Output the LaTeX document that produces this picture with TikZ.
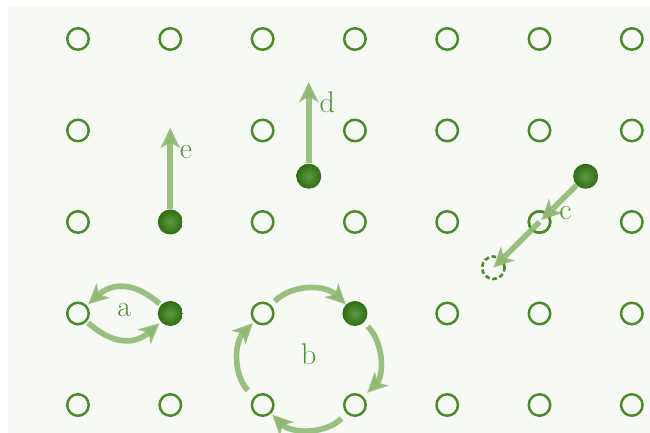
\documentclass[tikz,border=0pt]{standalone}
\usepackage{tikz}
\usetikzlibrary{arrows.meta, positioning, calc}
\definecolor{sitegreen}{HTML}{4A8B27}
\definecolor{atomdark}{HTML}{2F6C12}
\definecolor{atomlight}{HTML}{5E9A44}
\definecolor{hopgreen}{HTML}{8DB771}
\definecolor{labelgreen}{HTML}{4F8F35}
\definecolor{paper}{HTML}{F7F9F5}
\tikzset{
  site/.style   = {circle, draw=sitegreen, line width=1.4pt, fill=none,
                   minimum size=4.3mm, inner sep=0pt},
  atom/.style   = {circle, inner color=atomlight, outer color=atomdark,
                   minimum size=5mm, inner sep=0pt},
  ghost/.style  = {circle, draw=sitegreen, line width=1.5pt,
                   dash pattern=on 2.6pt off 1.6pt, minimum size=4.5mm, inner sep=0pt},
  hop/.style    = {-{Stealth[length=11.5pt, width=11pt, inset=3.2pt]}, line width=3.2pt,
                   draw=hopgreen, draw opacity=0.88, fill opacity=0.88},
  tag/.style    = {font=\fontsize{17}{20}\selectfont, text=labelgreen, inner sep=0pt},
}
\begin{document}
\begin{tikzpicture}[x=1.846cm, y=1.83cm]

% ---- Frame ----
\useasboundingbox (-0.845,0.426) rectangle (6.197,-4.306);
\fill[paper] (-0.758,0.35) rectangle (6.197,-4.306);

% ---- Lattice sites ----
\foreach \r/\cols in {1/{1,...,7}, 2/{1,3,4,5,6,7}, 3/{1,3,4,5,6,7}, 4/{1,3,5,6,7}, 5/{1,...,7}}
  \foreach \c in \cols
    \node[site] (site-\c-\r) at (\c-1,-\r+1) {};

% ---- Atoms ----
\node[atom] (atome) at (1,-2) {};
\node[atom] (atoma) at (1,-3) {};
\node[atom] (atomb) at (3,-3) {};
\node[atom] (atomd) at (2.5,-1.5) {};
\node[atom] (atomc) at (5.5,-1.5) {};
\node[ghost] (ghostc) at (4.5,-2.5) {};
\coordinate (vace) at (1,-0.97);
\coordinate (topd) at (2.5,-0.47);

% ===== Straight hops =====
\draw[hop] (atome) -- (vace);
\draw[hop] (atomd) -- (topd);
\draw[sitegreen, line width=1.4pt] (site-6-3) circle[radius=2.15mm];
\draw[hop, shorten >=1.5pt] (atomc) -- (site-6-3.center);
\draw[hop] (site-6-3.center) -- (ghostc.center);

% ===== Exchange (a) =====
\draw[hop, shorten <=1pt, shorten >=1pt] (atoma) to[bend right=42, looseness=1.2] (site-1-4);
\draw[hop, shorten <=1pt, shorten >=1pt] (site-1-4) to[bend right=42, looseness=1.2] (atoma);

% ===== Ring (b) =====
\draw[hop, shorten <=3pt] (site-3-4) to[bend left=45] (atomb);
\draw[hop, shorten <=3pt, shorten >=3pt] (atomb) to[bend left=45] (site-4-5);
\draw[hop, shorten <=4pt, shorten >=1pt] (site-4-5) to[bend left=45] (site-3-5);
\draw[hop, shorten <=5pt, shorten >=1pt] (site-3-5) to[bend left=45] (site-3-4);

% ---- Labels ----
\node[tag] (taga) at (0.5,-2.96) {a};
\node[tag] (tagb) at (2.5,-3.45) {b};
\node[tag] (tagc) at (5.28,-1.9) {c};
\node[tag] (tagd) at (2.7,-0.69) {d};
\node[tag] (tage) at (1.17,-1.235) {e};

\end{tikzpicture}
\end{document}
